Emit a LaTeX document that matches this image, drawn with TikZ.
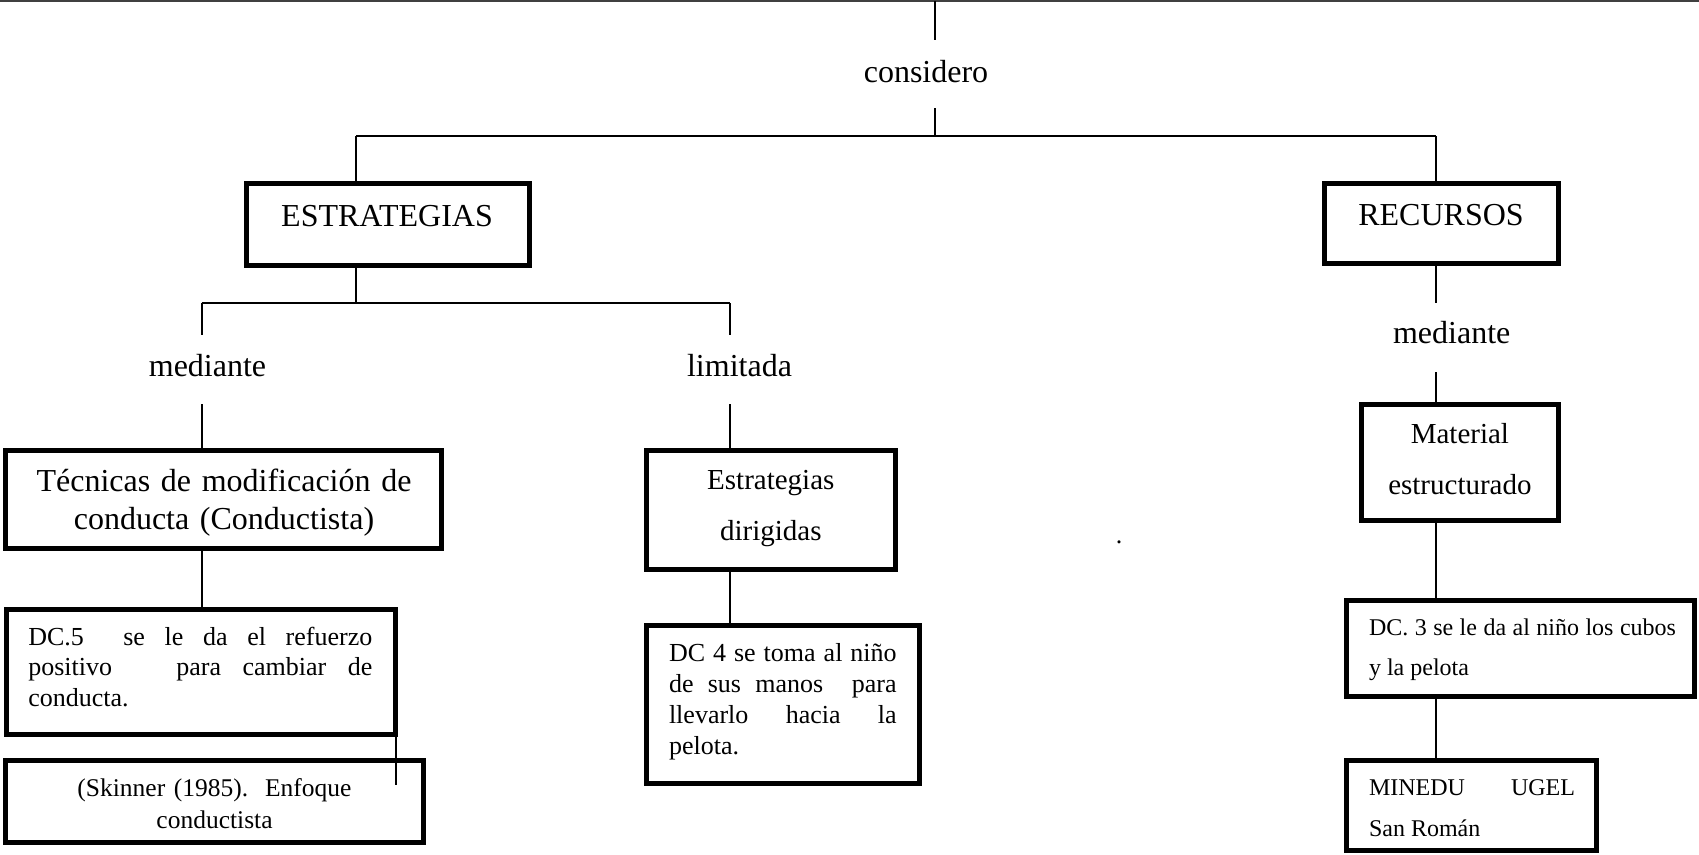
\documentclass[tikz,border=0pt]{standalone}
\usepackage{fontspec}
\setmainfont{Liberation Serif}
\hyphenpenalty=10000
\exhyphenpenalty=10000
\tolerance=9999
\newcommand\myfs[2]{\fontsize{#1}{#2}\selectfont}
\newcommand\bxn[5]{\node[bx, minimum width={#4-#2-5}, minimum height={#5-#3-5}] (#1) at ({(#2+#4)/2},{(#3+#5)/2}) {};}
\begin{document}
\begin{tikzpicture}[x=1pt,y=-1pt,
  bx/.style={draw, line width=5pt, inner sep=0pt},
  ln/.style={line width=2pt},
  tx/.style={inner sep=0pt, outer sep=0pt},
  jt/.style={tx, anchor=base west, align=justify},
  ct/.style={tx, anchor=base, align=center}]
\useasboundingbox (0,0) rectangle (1699,854);
\fill[white] (0,0) rectangle (1699,854);
% top line
\coordinate (tl) at (0,1);
\coordinate (tr) at (1699,1);
\draw[line width=2pt, black!75] (tl) -- (tr);
% boxes
\bxn{estr}{244}{181}{532}{267.7}
\bxn{rec}{1321.7}{181}{1561}{265.7}
\bxn{tec}{3.3}{448.3}{444.3}{550.7}
\bxn{dir}{644}{448.3}{897.7}{571.7}
\bxn{dcfive}{4}{606.7}{397.7}{736.7}
\bxn{skin}{3.3}{758.3}{426}{845}
\bxn{dcfour}{644}{622.7}{922}{786}
\bxn{mat}{1359}{401.7}{1560.7}{522.7}
\bxn{dcthree}{1344}{598.3}{1697}{699.3}
\bxn{mine}{1344}{758.3}{1599.3}{853}
% texts
\node[tx, anchor=base, font=\myfs{32}{37}] (tcons) at (926,82.5) {considero};
\node[tx, anchor=base, font=\myfs{32}{37}] (testr) at (387,226.7) {ESTRATEGIAS};
\node[tx, anchor=base, font=\myfs{32}{37}] (trec) at (1441,225) {RECURSOS};
\node[tx, anchor=base, font=\myfs{32}{37}] (tmedL) at (207.5,376.7) {mediante};
\node[tx, anchor=base, font=\myfs{32}{37}] (tlim) at (739.5,376.7) {limitada};
\node[tx, anchor=base, font=\myfs{32}{37}] (tmedR) at (1451.7,343.3) {mediante};
\node[ct, text width=420, font=\myfs{32}{37.3}] (ttec) at (224,491.7) {Técnicas de modificación de\\conducta (Conductista)};
\node[ct, text width=240, font=\myfs{29}{50.7}] (tdir) at (770.8,489.3) {Estrategias\\dirigidas};
\node[ct, text width=190, font=\myfs{29}{51}] (tmat) at (1459.9,443.3) {Material\\estructurado};
\node[jt, text width=344, font=\myfs{26}{30.8}] (tdcfive) at (28.3,645) {DC.5\ \ se le da el refuerzo\linebreak positivo\ \ \ para cambiar de\linebreak conducta.};
\node[ct, text width=400, font=\myfs{25.5}{31.6}] (tskin) at (214.5,796.7) {(Skinner (1985).\ \ Enfoque\\conductista};
\node[jt, text width=227.7, font=\myfs{26}{31}] (tdcfour) at (669,661.7) {DC 4 se toma al niño\linebreak de sus manos\ \ para\linebreak llevarlo hacia la\linebreak pelota.};
\node[jt, text width=307, font=\myfs{24}{40}] (tdcthree) at (1369,635) {DC. 3 se le da al niño los cubos\linebreak y la pelota};
\node[jt, text width=206, font=\myfs{24}{41}] (tmine) at (1369,795) {MINEDU UGEL\linebreak San Román};
\node[tx, anchor=base, font=\myfs{26}{30}] (tdot) at (1119,543.5) {.};
% connectors
\coordinate (c0) at (935,1);
\coordinate (c1) at (935,40);
\coordinate (c2) at (935,108);
\coordinate (c3) at (935,136);
\coordinate (hL) at (356,136);
\coordinate (hR) at (1436,136);
\draw[ln] (c0) -- (c1);
\draw[ln] (c2) -- (c3);
\draw[ln] (hL) -- (hR);
\draw[ln] (hL) -- (hL |- estr.north);
\draw[ln] (hR) -- (hR |- rec.north);
\coordinate (e1) at (356,303);
\draw[ln] (e1 |- estr.south) -- (e1);
\coordinate (mL) at (201.7,303);
\coordinate (lR) at (730,303);
\coordinate (mLtwo) at (201.7,335);
\coordinate (lRtwo) at (730,335);
\coordinate (mLthree) at (201.7,404);
\coordinate (lRthree) at (730,404);
\draw[ln] (mL) -- (lR);
\draw[ln] (mL) -- (mLtwo);
\draw[ln] (lR) -- (lRtwo);
\draw[ln] (mLthree) -- (mLthree |- tec.north);
\draw[ln] (mLthree |- tec.south) -- (mLthree |- dcfive.north);
\coordinate (sk) at (395.7,785);
\draw[ln] (sk |- dcfive.south) -- (sk);
\draw[ln] (lRthree) -- (lRthree |- dir.north);
\draw[ln] (lRthree |- dir.south) -- (lRthree |- dcfour.north);
\coordinate (rone) at (1436,303);
\coordinate (rtwo) at (1436,372);
\draw[ln] (rone |- rec.south) -- (rone);
\draw[ln] (rtwo) -- (rtwo |- mat.north);
\draw[ln] (rtwo |- mat.south) -- (rtwo |- dcthree.north);
\draw[ln] (rtwo |- dcthree.south) -- (rtwo |- mine.north);
\end{tikzpicture}
\end{document}
